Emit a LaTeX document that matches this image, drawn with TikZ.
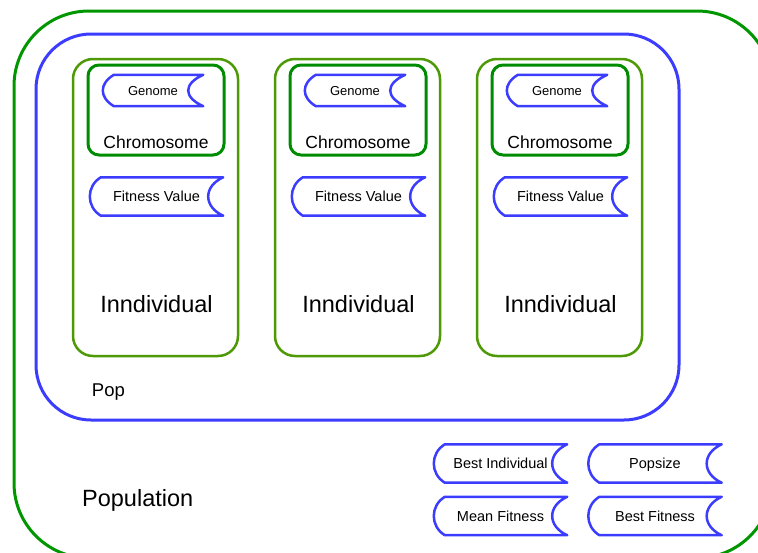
\documentclass[tikz,border=0pt]{standalone}
\usepackage{fontspec}
\setmainfont{Liberation Sans}
\usepackage{xcolor}
\definecolor{PopGreen}{RGB}{0, 150, 0}
\definecolor{IndGreen}{RGB}{78, 154, 6}
\definecolor{ChromGreen}{RGB}{0, 140, 0}
\definecolor{PopBlue}{RGB}{60, 60, 255}
\usepackage{tikz}
\usetikzlibrary{calc}

\begin{document}
\begin{tikzpicture}[
        x=1pt, y=-1pt,
        population/.style={rectangle, draw=PopGreen, line width=3pt, rounded corners=75pt, minimum width=758pt, minimum height=547pt, inner sep=0pt},
        pop/.style={rectangle, draw=PopBlue, line width=3pt, rounded corners=55pt, minimum width=643pt, minimum height=386pt, inner sep=0pt},
        indiv/.style={rectangle, draw=IndGreen, line width=2.5pt, rounded corners=20pt, minimum width=165pt, minimum height=297pt, inner sep=0pt},
        chromo/.style={rectangle, draw=ChromGreen, line width=3pt, rounded corners=11pt, minimum width=136pt, minimum height=90pt, inner sep=0pt},
        store/.style={rectangle, inner sep=0pt, minimum width=133pt, minimum height=38pt, text height=10.4pt, text depth=0pt, font=\fontsize{14.5}{17}\selectfont},
        genome/.style={store, minimum width=100pt, minimum height=31pt, text height=9.3pt, font=\fontsize{13}{15}\selectfont},
        title/.style={anchor=base, inner sep=0pt},
        storeline/.style={draw=PopBlue, line width=2.5pt, line join=round}
    ]
        \useasboundingbox (0,0) rectangle (758,552);
        \clip (0,0) rectangle (758,552);

        \node[population] (population) at (393,284.5) {};
        \node[pop] (pop) at (357.5,227) {};
        \node[title, font=\fontsize{23.5}{28}\selectfont] (poplabel) at (137.7,506.7) {Population};
        \node[title, font=\fontsize{18.5}{22}\selectfont] (pplabel) at (108.4,396.7) {Pop};

        % three individuals
        \foreach \i/\cx in {1/155.5, 2/357.5, 3/559.5} {
            \node[indiv] (ind\i) at (\cx,207.5) {};
            \node[chromo] (chr\i) at (\cx+0.5,110) {};
            \node[genome] (gen\i) at (\cx-2.5,90.5) {Genome};
            \node[title, font=\fontsize{17.5}{20}\selectfont] (chrlab\i) at (\cx+0.5,148.3) {Chromosome};
            \node[store] (fit\i) at (\cx+1,196.5) {Fitness Value};
            \node[title, font=\fontsize{23.5}{28}\selectfont] (indlab\i) at (\cx+1,312.3) {Inndividual};
        }

        \node[store] (best) at (500.5,463.5) {Best Individual};
        \node[store] (popsize) at (655,463.5) {Popsize};
        \node[store] (mean) at (500.5,516) {Mean Fitness};
        \node[store] (bestfit) at (655,516) {Best Fitness};

        % stored data outlines
        \foreach \n in {gen1,gen2,gen3,fit1,fit2,fit3,best,popsize,mean,bestfit}
            \draw[storeline] ($(\n.north west)+(11,0)$) -- (\n.north east)
                .. controls ($(\n.north east)+(-20,9)$) and ($(\n.south east)+(-20,-9)$) .. (\n.south east)
                -- ($(\n.south west)+(11,0)$)
                .. controls ($(\n.south west)+(-3.7,-9)$) and ($(\n.north west)+(-3.7,9)$) .. cycle;
    \end{tikzpicture}
\end{document}
